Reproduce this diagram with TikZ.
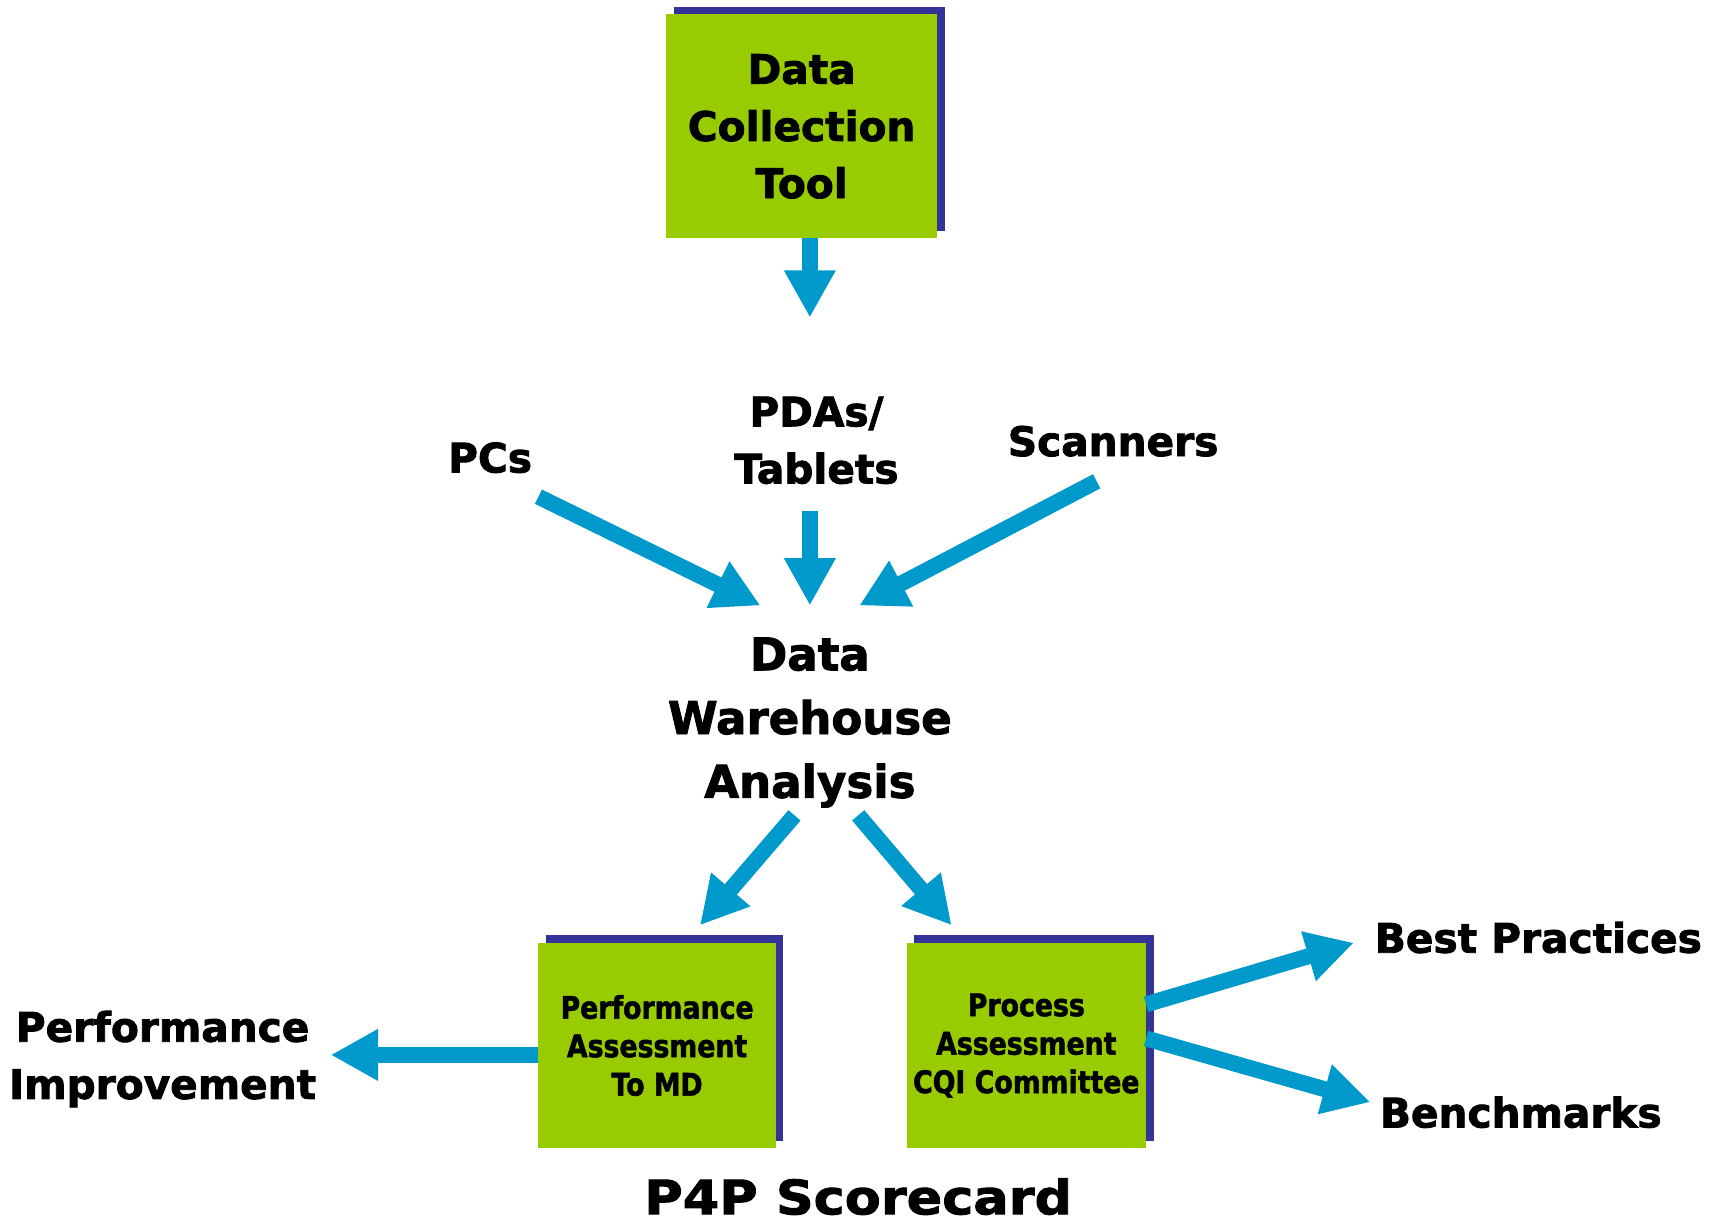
\documentclass[tikz,border=0pt]{standalone}
\usepackage{fontspec}
\setmainfont{DejaVu Sans}
\newfontfamily\heavy{DejaVu Sans}[UprightFont={* Bold},FakeBold=2]
\newfontfamily\wideheavy{DejaVu Sans}[UprightFont={* Bold},FakeBold=2,FakeStretch=1.11]
\newfontfamily\narrowheavy{DejaVu Sans}[UprightFont={* Bold},FakeBold=1.6,FakeStretch=0.86]
\usetikzlibrary{arrows.meta,shadows}
\definecolor{leaf}{HTML}{99CC00}
\definecolor{navy}{HTML}{333399}
\definecolor{flowblue}{HTML}{0099CC}
\begin{document}
\begin{tikzpicture}[x=1pt,y=-1pt,
  box/.style={fill=leaf, inner sep=0pt, align=center,
    drop shadow={shadow xshift=7pt,shadow yshift=7pt,fill=navy,opacity=1}},
  flow/.style={draw=flowblue, line width=14.5pt, -{Triangle[width=44pt,length=43pt]}},
  lbl/.style={font=\heavy\fontsize{37}{52}\selectfont, align=center, inner sep=0pt, anchor=base},
  smalllbl/.style={font=\narrowheavy\fontsize{28.3}{35}\selectfont}]
\useasboundingbox (0,0) rectangle (1568,1116);

% boxes
\node[box, minimum width=247pt, minimum height=204pt, font=\heavy\fontsize{37}{52}\selectfont]
  (dct) at (729.5,115) {Data\\Collection\\Tool};
\node[box, smalllbl, minimum width=216pt, minimum height=187pt]
  (pam) at (598,951.5) {Performance\\Assessment\\To MD};
\node[box, smalllbl, minimum width=218pt, minimum height=187pt]
  (pac) at (934,951.5) {Process\\Assessment\\CQI Committee};

% free labels (base = baseline of the last line)
\node[lbl] (pcs) at (446,430) {PCs};
\node[lbl] (pdas) at (743,440) {PDAs/\\Tablets};
\node[lbl] (scan) at (1013,415) {Scanners};
\node[lbl, font=\heavy\fontsize{41}{58}\selectfont] (dwa) at (737,726) {Data\\Warehouse\\Analysis};
\node[lbl] (perf) at (148,1000) {Performance\\Improvement};
\node[lbl] (best) at (1400,867) {Best Practices};
\node[lbl] (bench) at (1384,1026) {Benchmarks};
\node[lbl, font=\wideheavy\fontsize{43}{52}\selectfont] (p4p) at (781,1105) {P4P Scorecard};

% arrow ends
\coordinate (dctout) at (737,217);
\coordinate (dctin) at (737,289);
\coordinate (pdaout) at (737,465);
\coordinate (pdain) at (737,551);
\coordinate (pcout) at (490,452);
\coordinate (pcin) at (692,551);
\coordinate (scout) at (998,438);
\coordinate (scin) at (782,551);
\coordinate (dwl) at (723,742);
\coordinate (pamin) at (637,842);
\coordinate (dwr) at (781,742);
\coordinate (pacin) at (866,842);
\coordinate (pamout) at (490,960);
\coordinate (perfin) at (301,960);
\coordinate (pacout1) at (1043,914);
\coordinate (bestin) at (1232,858);
\coordinate (pacout2) at (1043,945);
\coordinate (benchin) at (1247,1003);

% connectors
\draw[flow] (dctout) -- (dctin);
\draw[flow] (pdaout) -- (pdain);
\draw[flow] (pcout) -- (pcin);
\draw[flow] (scout) -- (scin);
\draw[flow] (dwl) -- (pamin);
\draw[flow] (dwr) -- (pacin);
\draw[flow] (pamout) -- (perfin);
\draw[flow] (pacout1) -- (bestin);
\draw[flow] (pacout2) -- (benchin);
\end{tikzpicture}
\end{document}
